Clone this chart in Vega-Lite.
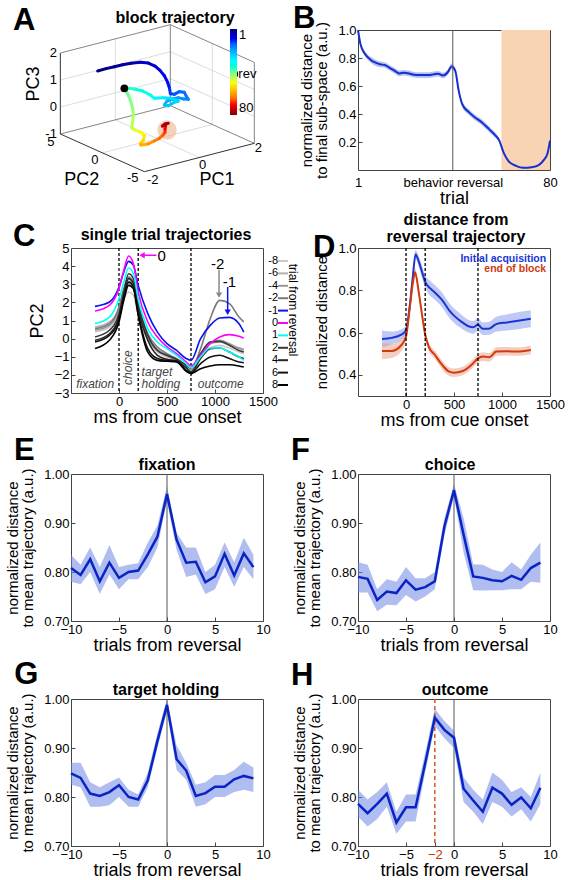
{
"$schema":"https://vega.github.io/schema/vega-lite/v6.json",
"padding":{"left":5,"top":2,"right":5,"bottom":0},
"config":{"font":"Liberation Sans","view":{"stroke":"#444","strokeWidth":1},
"axis":{"grid":false,"domain":false,"labelFontSize":13,"titleFontSize":15,"titleFontWeight":"normal","labelColor":"#000","titleColor":"#000","tickColor":"#444","tickSize":-4,"labelPadding":6,"labelFlush":false,"labelOverlap":false,"titlePadding":4},
"axisX":{"titleFontSize":18,"titlePadding":0},
"axisY":{"titleLineHeight":15,"titlePadding":8}},
"resolve":{"scale":{"color":"independent"}},
"columns":2,
"spacing":{"row":78,"column":95},
"bounds":"flush",
"datasets":{
"one":[{}],
"traj":[{"t":1,"u":-2.21,"v":1.506},{"t":2,"u":-1.901,"v":1.593},{"t":3,"u":-1.593,"v":1.667},{"t":4,"u":-1.284,"v":1.741},{"t":5,"u":-0.975,"v":1.79},{"t":6,"u":-0.63,"v":1.827},{"t":7,"u":-0.333,"v":1.802},{"t":8,"u":-0.086,"v":1.691},{"t":9,"u":0.099,"v":1.531},{"t":10,"u":0.259,"v":1.333},{"t":11,"u":0.383,"v":1.086},{"t":12,"u":0.457,"v":0.84},{"t":13,"u":0.481,"v":0.667},{"t":14,"u":0.63,"v":0.642},{"t":15,"u":0.815,"v":0.741},{"t":16,"u":1.0,"v":0.716},{"t":17,"u":1.074,"v":0.568},{"t":18,"u":1.148,"v":0.457},{"t":19,"u":0.975,"v":0.469},{"t":20,"u":0.778,"v":0.519},{"t":21,"u":0.568,"v":0.469},{"t":22,"u":0.358,"v":0.395},{"t":23,"u":0.259,"v":0.247},{"t":24,"u":0.407,"v":0.222},{"t":25,"u":0.605,"v":0.333},{"t":26,"u":0.778,"v":0.395},{"t":27,"u":0.506,"v":0.494},{"t":29,"u":0.198,"v":0.519},{"t":31,"u":-0.111,"v":0.494},{"t":33,"u":-0.259,"v":0.617},{"t":35,"u":-0.543,"v":0.765},{"t":37,"u":-0.852,"v":0.84},{"t":39,"u":-1.074,"v":0.864},{"t":40,"u":-1.222,"v":0.864},{"t":41,"u":-1.123,"v":0.716},{"t":42,"u":-1.049,"v":0.556},{"t":43,"u":-0.975,"v":0.346},{"t":44,"u":-0.914,"v":0.123},{"t":45,"u":-0.889,"v":-0.123},{"t":46,"u":-0.914,"v":-0.37},{"t":47,"u":-0.951,"v":-0.593},{"t":49,"u":-0.827,"v":-0.679},{"t":51,"u":-0.605,"v":-0.765},{"t":53,"u":-0.481,"v":-0.889},{"t":55,"u":-0.519,"v":-1.062},{"t":57,"u":-0.63,"v":-1.185},{"t":59,"u":-0.605,"v":-1.235},{"t":61,"u":-0.358,"v":-1.198},{"t":63,"u":-0.111,"v":-1.086},{"t":65,"u":0.074,"v":-0.988},{"t":67,"u":0.21,"v":-0.864},{"t":69,"u":0.284,"v":-0.765},{"t":71,"u":0.284,"v":-0.642},{"t":73,"u":0.309,"v":-0.519},{"t":75,"u":0.185,"v":-0.531},{"t":77,"u":0.284,"v":-0.457},{"t":80,"u":0.407,"v":-0.432}],
"frame":[{"k":"axis","u":-3.593,"v":-0.827,"u2":-3.593,"v2":2.173},{"k":"axis","u":-3.593,"v":-0.827,"u2":-0.481,"v2":-2.222},{"k":"axis","u":-0.481,"v":-2.222,"u2":3.593,"v2":-1.173},{"k":"box","u":-3.593,"v":2.173,"u2":0.481,"v2":3.222},{"k":"box","u":0.481,"v":0.222,"u2":0.481,"v2":3.222},{"k":"box","u":0.481,"v":3.222,"u2":3.593,"v2":1.827},{"k":"box","u":3.593,"v":-1.173,"u2":3.593,"v2":1.827},{"k":"box","u":-3.593,"v":-0.827,"u2":0.481,"v2":0.222},{"k":"box","u":0.481,"v":0.222,"u2":3.593,"v2":-1.173},{"k":"grid","u":-1.556,"v":-0.302,"u2":-1.556,"v2":2.698},{"k":"grid","u":-3.593,"v":0.173,"u2":0.481,"v2":1.222},{"k":"grid","u":-3.593,"v":1.173,"u2":0.481,"v2":2.222},{"k":"grid","u":2.037,"v":-0.475,"u2":2.037,"v2":2.525},{"k":"grid","u":0.481,"v":1.222,"u2":3.593,"v2":-0.173},{"k":"grid","u":0.481,"v":2.222,"u2":3.593,"v2":0.827},{"k":"grid","u":-1.556,"v":-0.302,"u2":1.556,"v2":-1.698},{"k":"grid","u":-2.037,"v":-1.525,"u2":2.037,"v2":-0.475}],
"B":[{"trial":1,"m":1.0,"lo":0.99,"hi":1.0},{"trial":2,"m":0.9,"lo":0.885,"hi":0.915},{"trial":4,"m":0.826,"lo":0.81,"hi":0.845},{"trial":6,"m":0.79,"lo":0.77,"hi":0.81},{"trial":8,"m":0.768,"lo":0.745,"hi":0.79},{"trial":10,"m":0.755,"lo":0.735,"hi":0.775},{"trial":12,"m":0.75,"lo":0.73,"hi":0.77},{"trial":14,"m":0.73,"lo":0.71,"hi":0.75},{"trial":16,"m":0.71,"lo":0.69,"hi":0.73},{"trial":18,"m":0.69,"lo":0.67,"hi":0.71},{"trial":20,"m":0.695,"lo":0.675,"hi":0.715},{"trial":22,"m":0.69,"lo":0.67,"hi":0.71},{"trial":24,"m":0.68,"lo":0.66,"hi":0.7},{"trial":26,"m":0.678,"lo":0.658,"hi":0.698},{"trial":28,"m":0.678,"lo":0.658,"hi":0.698},{"trial":30,"m":0.678,"lo":0.658,"hi":0.698},{"trial":32,"m":0.683,"lo":0.663,"hi":0.703},{"trial":34,"m":0.688,"lo":0.668,"hi":0.708},{"trial":36,"m":0.675,"lo":0.655,"hi":0.695},{"trial":38,"m":0.7,"lo":0.68,"hi":0.72},{"trial":39.5,"m":0.74,"lo":0.72,"hi":0.76},{"trial":41,"m":0.71,"lo":0.69,"hi":0.73},{"trial":42.5,"m":0.56,"lo":0.54,"hi":0.58},{"trial":44,"m":0.466,"lo":0.446,"hi":0.486},{"trial":46.5,"m":0.415,"lo":0.395,"hi":0.435},{"trial":49,"m":0.377,"lo":0.357,"hi":0.397},{"trial":52,"m":0.34,"lo":0.32,"hi":0.36},{"trial":55,"m":0.29,"lo":0.27,"hi":0.31},{"trial":57.5,"m":0.248,"lo":0.23,"hi":0.266},{"trial":59,"m":0.215,"lo":0.2,"hi":0.23},{"trial":61,"m":0.12,"lo":0.11,"hi":0.13},{"trial":63,"m":0.062,"lo":0.055,"hi":0.07},{"trial":66,"m":0.03,"lo":0.025,"hi":0.035},{"trial":69,"m":0.016,"lo":0.012,"hi":0.02},{"trial":72.5,"m":0.02,"lo":0.015,"hi":0.025},{"trial":75.5,"m":0.037,"lo":0.03,"hi":0.044},{"trial":77.5,"m":0.072,"lo":0.065,"hi":0.08},{"trial":79,"m":0.12,"lo":0.11,"hi":0.13},{"trial":80,"m":0.21,"lo":0.2,"hi":0.22}],
"C":[{"t":-250,"-8":0.37,"-6":0.64,"-4":0.46,"-2":0.55,"-1":1.78,"0":1.52,"1":0.83,"2":0.09,"4":-0.09,"6":-0.19,"8":-0.55},{"t":-100,"-8":0.64,"-6":0.92,"-4":0.73,"-2":0.83,"-1":2.02,"0":1.84,"1":1.19,"2":0.46,"4":0.27,"6":0.18,"8":-0.09},{"t":0,"-8":1.38,"-6":1.65,"-4":1.56,"-2":1.75,"-1":2.85,"0":2.76,"1":2.2,"2":1.38,"4":1.19,"6":1.1,"8":0.92},{"t":50,"-8":2.2,"-6":2.57,"-4":2.48,"-2":2.76,"-1":3.68,"0":3.77,"1":3.12,"2":2.57,"4":2.39,"6":2.3,"8":2.11},{"t":100,"-8":2.57,"-6":3.16,"-4":3.03,"-2":3.4,"-1":4.26,"0":4.56,"1":3.9,"2":3.58,"4":3.31,"6":3.12,"8":2.94},{"t":150,"-8":2.39,"-6":2.94,"-4":2.76,"-2":3.12,"-1":4.04,"0":4.14,"1":3.58,"2":3.31,"4":3.03,"6":2.85,"8":2.76},{"t":200,"-8":1.29,"-6":1.65,"-4":1.56,"-2":1.93,"-1":2.94,"0":2.57,"1":2.2,"2":1.93,"4":1.65,"6":1.38,"8":1.29},{"t":300,"-8":-0.09,"-6":0.09,"-4":0.0,"-2":0.27,"-1":1.38,"0":0.92,"1":0.55,"2":0.18,"4":-0.09,"6":-0.55,"8":-0.74},{"t":400,"-8":-0.74,"-6":-0.59,"-4":-0.65,"-2":-0.46,"-1":0.36,"0":0.09,"1":-0.19,"2":-0.65,"4":-0.92,"6":-1.1,"8":-1.2},{"t":500,"-8":-1.01,"-6":-0.88,"-4":-0.96,"-2":-0.83,"-1":-0.28,"0":-0.46,"1":-0.55,"2":-0.92,"4":-1.14,"6":-1.2,"8":-1.25},{"t":600,"-8":-1.2,"-6":-1.14,"-4":-1.2,"-2":-1.1,"-1":-0.65,"0":-0.83,"1":-0.92,"2":-1.14,"4":-1.25,"6":-1.23,"8":-1.29},{"t":700,"-8":-1.51,"-6":-1.51,"-4":-1.57,"-2":-1.47,"-1":-1.1,"0":-1.29,"1":-1.38,"2":-1.47,"4":-1.62,"6":-1.75,"8":-1.8},{"t":750,"-8":-1.62,"-6":-1.69,"-4":-1.75,"-2":-1.66,"-1":-1.2,"0":-1.51,"1":-1.62,"2":-1.62,"4":-1.84,"6":-1.9,"8":-1.93},{"t":850,"-8":-1.01,"-6":-0.92,"-4":-0.83,"-2":-0.55,"-1":0.0,"0":-0.92,"1":-1.01,"2":-0.83,"4":-1.1,"6":-1.38,"8":-1.66},{"t":950,"-8":-0.52,"-6":-0.28,"-4":-0.19,"-2":1.1,"-1":0.73,"0":-0.28,"1":-0.52,"2":-0.19,"4":-0.55,"6":-1.01,"8":-1.51},{"t":1050,"-8":-0.37,"-6":-0.19,"-4":-0.09,"-2":2.11,"-1":1.14,"0":0.09,"1":-0.52,"2":-0.15,"4":-0.52,"6":-0.92,"8":-1.44},{"t":1150,"-8":-0.52,"-6":-0.37,"-4":-0.28,"-2":1.93,"-1":1.17,"0":0.22,"1":-0.74,"2":-0.37,"4":-0.74,"6":-1.1,"8":-1.44},{"t":1250,"-8":-0.74,"-6":-0.55,"-4":-0.52,"-2":1.19,"-1":0.82,"0":0.13,"1":-1.01,"2":-0.65,"4":-1.01,"6":-1.29,"8":-1.51},{"t":1300,"-8":-0.83,"-6":-0.65,"-4":-0.59,"-2":0.92,"-1":0.36,"0":0.03,"1":-1.2,"2":-0.74,"4":-1.1,"6":-1.33,"8":-1.57}],
"D":[{"g":"acq","t":-250,"m":0.57,"lo":0.53,"hi":0.61},{"g":"acq","t":-150,"m":0.575,"lo":0.545,"hi":0.605},{"g":"acq","t":-50,"m":0.59,"lo":0.565,"hi":0.615},{"g":"acq","t":0,"m":0.61,"lo":0.59,"hi":0.63},{"g":"acq","t":40,"m":0.73,"lo":0.71,"hi":0.75},{"g":"acq","t":70,"m":0.86,"lo":0.84,"hi":0.88},{"g":"acq","t":100,"m":0.97,"lo":0.95,"hi":0.99},{"g":"acq","t":130,"m":0.94,"lo":0.915,"hi":0.965},{"g":"acq","t":165,"m":0.89,"lo":0.86,"hi":0.92},{"g":"acq","t":200,"m":0.84,"lo":0.81,"hi":0.87},{"g":"acq","t":250,"m":0.81,"lo":0.775,"hi":0.845},{"g":"acq","t":300,"m":0.79,"lo":0.755,"hi":0.825},{"g":"acq","t":375,"m":0.755,"lo":0.72,"hi":0.79},{"g":"acq","t":450,"m":0.705,"lo":0.67,"hi":0.74},{"g":"acq","t":500,"m":0.68,"lo":0.645,"hi":0.715},{"g":"acq","t":575,"m":0.652,"lo":0.62,"hi":0.685},{"g":"acq","t":650,"m":0.63,"lo":0.6,"hi":0.66},{"g":"acq","t":700,"m":0.625,"lo":0.595,"hi":0.655},{"g":"acq","t":750,"m":0.637,"lo":0.607,"hi":0.667},{"g":"acq","t":800,"m":0.618,"lo":0.588,"hi":0.648},{"g":"acq","t":860,"m":0.618,"lo":0.588,"hi":0.65},{"g":"acq","t":940,"m":0.64,"lo":0.605,"hi":0.675},{"g":"acq","t":1050,"m":0.648,"lo":0.61,"hi":0.686},{"g":"acq","t":1150,"m":0.655,"lo":0.615,"hi":0.695},{"g":"acq","t":1300,"m":0.665,"lo":0.625,"hi":0.705},
{"g":"end","t":-250,"m":0.513,"lo":0.475,"hi":0.55},{"g":"end","t":-150,"m":0.513,"lo":0.48,"hi":0.546},{"g":"end","t":-50,"m":0.54,"lo":0.51,"hi":0.57},{"g":"end","t":0,"m":0.58,"lo":0.56,"hi":0.6},{"g":"end","t":40,"m":0.72,"lo":0.7,"hi":0.74},{"g":"end","t":70,"m":0.83,"lo":0.81,"hi":0.85},{"g":"end","t":95,"m":0.885,"lo":0.865,"hi":0.905},{"g":"end","t":130,"m":0.8,"lo":0.78,"hi":0.82},{"g":"end","t":165,"m":0.69,"lo":0.67,"hi":0.71},{"g":"end","t":200,"m":0.59,"lo":0.57,"hi":0.61},{"g":"end","t":240,"m":0.53,"lo":0.51,"hi":0.55},{"g":"end","t":300,"m":0.495,"lo":0.475,"hi":0.515},{"g":"end","t":375,"m":0.448,"lo":0.428,"hi":0.468},{"g":"end","t":450,"m":0.415,"lo":0.395,"hi":0.435},{"g":"end","t":500,"m":0.41,"lo":0.39,"hi":0.43},{"g":"end","t":590,"m":0.418,"lo":0.398,"hi":0.438},{"g":"end","t":690,"m":0.45,"lo":0.43,"hi":0.47},{"g":"end","t":750,"m":0.478,"lo":0.458,"hi":0.498},{"g":"end","t":800,"m":0.487,"lo":0.467,"hi":0.507},{"g":"end","t":870,"m":0.483,"lo":0.463,"hi":0.503},{"g":"end","t":940,"m":0.51,"lo":0.49,"hi":0.53},{"g":"end","t":1050,"m":0.512,"lo":0.492,"hi":0.532},{"g":"end","t":1150,"m":0.51,"lo":0.49,"hi":0.53},{"g":"end","t":1300,"m":0.518,"lo":0.498,"hi":0.538}],
"E":[{"trial":-10,"m":0.808,"lo":0.78,"hi":0.835},{"trial":-9,"m":0.794,"lo":0.775,"hi":0.815},{"trial":-8,"m":0.826,"lo":0.8,"hi":0.85},{"trial":-7,"m":0.781,"lo":0.755,"hi":0.81},{"trial":-6,"m":0.819,"lo":0.795,"hi":0.855},{"trial":-5,"m":0.788,"lo":0.765,"hi":0.81},{"trial":-4,"m":0.8,"lo":0.785,"hi":0.815},{"trial":-3,"m":0.803,"lo":0.785,"hi":0.818},{"trial":-2,"m":0.836,"lo":0.81,"hi":0.86},{"trial":-1,"m":0.872,"lo":0.85,"hi":0.895},{"trial":0,"m":0.959,"lo":0.945,"hi":0.975},{"trial":1,"m":0.866,"lo":0.845,"hi":0.88},{"trial":2,"m":0.819,"lo":0.79,"hi":0.85},{"trial":3,"m":0.821,"lo":0.795,"hi":0.85},{"trial":4,"m":0.779,"lo":0.755,"hi":0.8},{"trial":5,"m":0.791,"lo":0.765,"hi":0.815},{"trial":6,"m":0.837,"lo":0.81,"hi":0.86},{"trial":7,"m":0.793,"lo":0.77,"hi":0.82},{"trial":8,"m":0.838,"lo":0.81,"hi":0.87},{"trial":9,"m":0.81,"lo":0.785,"hi":0.835}],
"F":[{"trial":-10,"m":0.79,"lo":0.758,"hi":0.82},{"trial":-9,"m":0.786,"lo":0.758,"hi":0.815},{"trial":-8,"m":0.743,"lo":0.72,"hi":0.765},{"trial":-7,"m":0.76,"lo":0.733,"hi":0.785},{"trial":-6,"m":0.757,"lo":0.732,"hi":0.78},{"trial":-5,"m":0.783,"lo":0.753,"hi":0.81},{"trial":-4,"m":0.764,"lo":0.74,"hi":0.787},{"trial":-3,"m":0.769,"lo":0.75,"hi":0.787},{"trial":-2,"m":0.781,"lo":0.765,"hi":0.8},{"trial":-1,"m":0.893,"lo":0.875,"hi":0.91},{"trial":0,"m":0.967,"lo":0.955,"hi":0.98},{"trial":1,"m":0.876,"lo":0.84,"hi":0.91},{"trial":2,"m":0.791,"lo":0.763,"hi":0.816},{"trial":3,"m":0.788,"lo":0.762,"hi":0.815},{"trial":4,"m":0.783,"lo":0.763,"hi":0.805},{"trial":5,"m":0.781,"lo":0.763,"hi":0.8},{"trial":6,"m":0.792,"lo":0.765,"hi":0.82},{"trial":7,"m":0.784,"lo":0.765,"hi":0.805},{"trial":8,"m":0.808,"lo":0.78,"hi":0.835},{"trial":9,"m":0.819,"lo":0.778,"hi":0.86}],
"G":[{"trial":-10,"m":0.848,"lo":0.825,"hi":0.87},{"trial":-9,"m":0.839,"lo":0.82,"hi":0.87},{"trial":-8,"m":0.807,"lo":0.78,"hi":0.83},{"trial":-7,"m":0.802,"lo":0.78,"hi":0.82},{"trial":-6,"m":0.81,"lo":0.783,"hi":0.83},{"trial":-5,"m":0.824,"lo":0.8,"hi":0.84},{"trial":-4,"m":0.8,"lo":0.78,"hi":0.815},{"trial":-3,"m":0.795,"lo":0.78,"hi":0.805},{"trial":-2,"m":0.834,"lo":0.82,"hi":0.85},{"trial":-1,"m":0.914,"lo":0.9,"hi":0.93},{"trial":0,"m":0.988,"lo":0.975,"hi":1.0},{"trial":1,"m":0.877,"lo":0.855,"hi":0.905},{"trial":2,"m":0.854,"lo":0.835,"hi":0.87},{"trial":3,"m":0.802,"lo":0.78,"hi":0.825},{"trial":4,"m":0.808,"lo":0.785,"hi":0.83},{"trial":5,"m":0.821,"lo":0.8,"hi":0.845},{"trial":6,"m":0.821,"lo":0.8,"hi":0.845},{"trial":7,"m":0.836,"lo":0.81,"hi":0.855},{"trial":8,"m":0.843,"lo":0.815,"hi":0.872},{"trial":9,"m":0.838,"lo":0.81,"hi":0.86}],
"H":[{"trial":-10,"m":0.786,"lo":0.76,"hi":0.815},{"trial":-9,"m":0.767,"lo":0.74,"hi":0.795},{"trial":-8,"m":0.786,"lo":0.755,"hi":0.81},{"trial":-7,"m":0.807,"lo":0.78,"hi":0.83},{"trial":-6,"m":0.748,"lo":0.725,"hi":0.77},{"trial":-5,"m":0.779,"lo":0.75,"hi":0.805},{"trial":-4,"m":0.779,"lo":0.75,"hi":0.805},{"trial":-3,"m":0.869,"lo":0.85,"hi":0.89},{"trial":-2,"m":0.962,"lo":0.945,"hi":0.98},{"trial":-1,"m":0.937,"lo":0.92,"hi":0.955},{"trial":0,"m":0.921,"lo":0.9,"hi":0.935},{"trial":1,"m":0.817,"lo":0.79,"hi":0.84},{"trial":2,"m":0.793,"lo":0.77,"hi":0.815},{"trial":3,"m":0.77,"lo":0.745,"hi":0.795},{"trial":4,"m":0.819,"lo":0.79,"hi":0.85},{"trial":5,"m":0.807,"lo":0.78,"hi":0.835},{"trial":6,"m":0.784,"lo":0.76,"hi":0.81},{"trial":7,"m":0.799,"lo":0.775,"hi":0.82},{"trial":8,"m":0.777,"lo":0.75,"hi":0.8},{"trial":9,"m":0.819,"lo":0.785,"hi":0.85}]
},
"concat":[
{"width":192,"height":140,"view":{"stroke":null},
"encoding":{"x":{"field":"u","type":"quantitative","scale":{"domain":[-3.198,3.914],"nice":false,"zero":false},"axis":null},"y":{"field":"v","type":"quantitative","scale":{"domain":[-2.16,3.025],"nice":false,"zero":false},"axis":null}},
"layer":[
{"data":{"name":"frame"},"transform":[{"filter":"datum.k == 'grid'"}],"mark":{"type":"rule","color":"#d4d4d4","strokeWidth":0.8},"encoding":{"x2":{"field":"u2"},"y2":{"field":"v2"}}},
{"data":{"name":"frame"},"transform":[{"filter":"datum.k == 'box'"}],"mark":{"type":"rule","color":"#666","strokeWidth":0.8},"encoding":{"x2":{"field":"u2"},"y2":{"field":"v2"}}},
{"data":{"name":"frame"},"transform":[{"filter":"datum.k == 'axis'"}],"mark":{"type":"rule","color":"#333","strokeWidth":1},"encoding":{"x2":{"field":"u2"},"y2":{"field":"v2"}}},
{"data":{"values":[{"u":0.358,"v":-0.679}]},"mark":{"type":"point","filled":true,"color":"#eeb48e","opacity":0.6,"size":380}},
{"data":{"name":"traj"},"transform":[{"window":[{"op":"lead","field":"u","as":"u2"},{"op":"lead","field":"v","as":"v2"}],"sort":[{"field":"t"}]},{"filter":"datum.u2 != null"}],"mark":{"type":"rule","strokeWidth":3,"strokeCap":"round"},"encoding":{"x2":{"field":"u2"},"y2":{"field":"v2"},"color":{"field":"t","type":"quantitative","scale":{"domain":[80,70.1,50.4,30.6,10.9,1],"range":["#7f0000","#ff0000","#ffff00","#00ffff","#0000ff","#00007f"]},"legend":{"orient":"none","legendX":159,"legendY":-1,"direction":"vertical","title":null,"padding":0,"gradientLength":86,"gradientThickness":7,"values":[1,80],"labelFontSize":13,"gradientStrokeWidth":0,"labelOffset":2}}}},
{"data":{"values":[{"u":-1.222,"v":0.864},{"u":2.852,"v":1.395}]},"mark":{"type":"point","filled":true,"color":"#000","opacity":1,"size":60}},
{"data":{"values":[{"u":3.0,"v":1.395,"s":"rev"}]},"mark":{"type":"text","align":"left","baseline":"middle","fontSize":13},"encoding":{"text":{"field":"s"}}},
{"data":{"values":[{"u":-3.72,"v":2.173,"s":"2"},{"u":-3.72,"v":1.173,"s":"1"},{"u":-3.72,"v":0.173,"s":"0"},{"u":-3.72,"v":-0.827,"s":"-1"}]},"mark":{"type":"text","align":"right","baseline":"middle","fontSize":13},"encoding":{"text":{"field":"s"}}},
{"data":{"values":[{"u":-3.94,"v":-1.11,"s":"5"},{"u":-2.31,"v":-1.79,"s":"0"},{"u":-0.91,"v":-2.47,"s":"-5"},{"u":-0.17,"v":-2.53,"s":"-2"},{"u":1.68,"v":-1.98,"s":"0"},{"u":3.74,"v":-1.36,"s":"2"}]},"mark":{"type":"text","align":"center","baseline":"middle","fontSize":13},"encoding":{"text":{"field":"s"}}},
{"data":{"values":[{"u":-2.8,"v":-2.53,"s":"PC2"},{"u":2.21,"v":-2.53,"s":"PC1"}]},"mark":{"type":"text","align":"center","baseline":"middle","fontSize":18},"encoding":{"text":{"field":"s"}}},
{"data":{"values":[{"u":-4.556,"v":1.025,"s":"PC3"}]},"mark":{"type":"text","align":"center","baseline":"middle","fontSize":18,"angle":270},"encoding":{"text":{"field":"s"}}},
{"data":{"values":[{"u":0.654,"v":3.295,"s":"block trajectory"}]},"mark":{"type":"text","align":"center","baseline":"alphabetic","fontSize":16,"fontWeight":"bold"},"encoding":{"text":{"field":"s"}}},
{"data":{"values":[{"u":-5.346,"v":3.025,"s":"A"}]},"mark":{"type":"text","align":"left","baseline":"alphabetic","fontSize":31,"fontWeight":"bold"},"encoding":{"text":{"field":"s"}}}
]},
{"width":192,"height":140,"data":{"name":"B"},
"layer":[
{"data":{"name":"one"},"mark":{"type":"rect","color":"#f8d4b4"},"encoding":{"x":{"datum":60,"type":"quantitative","scale":{"domain":[1,80],"nice":false,"zero":false},"axis":{"values":[1,40,80],"tickCount":20,"labelExpr":"datum.value == 40 ? 'behavior reversal' : datum.label","title":"trial","tickSize":0,"labelOverlap":false}},"x2":{"datum":80}}},
{"mark":{"type":"area","color":"#6f86e6","opacity":0.5,"interpolate":"monotone"},"encoding":{"x":{"field":"trial","type":"quantitative"},"y":{"field":"lo","type":"quantitative","scale":{"domain":[0,1],"nice":false},"axis":{"values":[0.2,0.4,0.6,0.8,1.0],"tickCount":20,"format":".1f","labelOverlap":false,"title":["normalized distance","to final sub-space (a.u.)"]}},"y2":{"field":"hi"}}},
{"mark":{"type":"line","color":"#1530d0","strokeWidth":2,"interpolate":"monotone"},"encoding":{"x":{"field":"trial","type":"quantitative"},"y":{"field":"m","type":"quantitative"}}},
{"data":{"name":"one"},"mark":{"type":"rule","color":"#555","strokeWidth":1},"encoding":{"x":{"datum":40}}},
{"data":{"name":"one"},"mark":{"type":"text","align":"left","baseline":"alphabetic","fontSize":31,"fontWeight":"bold","text":"B"},"encoding":{"x":{"datum":-25.7},"y":{"datum":1.014}}}
]},
{"width":192,"height":145,
"layer":[
{"data":{"values":[{"t":0},{"t":200},{"t":750}]},"mark":{"type":"rule","color":"#000","strokeDash":[3,2],"strokeWidth":1.3},"encoding":{"x":{"field":"t","type":"quantitative","scale":{"domain":[-500,1500],"nice":false},"axis":{"values":[0,500,1000,1500],"tickCount":20,"format":"d","labelOverlap":false,"title":"ms from cue onset"}}}},
{"data":{"name":"C"},"transform":[{"fold":["-8","-6","-4","-2","-1","0","1","2","4","6","8"],"as":["trial","pc"]},{"filter":{"not":{"field":"trial","oneOf":["-1","0","1"]}}}],"mark":{"type":"line","strokeWidth":1.6,"interpolate":"monotone"},"encoding":{"x":{"field":"t","type":"quantitative"},"y":{"field":"pc","type":"quantitative","scale":{"domain":[-3,5],"nice":false},"axis":{"values":[-3,-2,-1,0,1,2,3,4,5],"tickCount":20,"format":"d","labelOverlap":false,"title":"PC2","titleFontSize":18}},"color":{"field":"trial","type":"nominal","scale":{"domain":["-8","-6","-4","-2","-1","0","1","2","4","6","8"],"range":["#c8c8c8","#b0b0b0","#989898","#7a7a7a","#0a14f0","#ff00ff","#00ffff","#383838","#262626","#141414","#000000"]},"legend":{"orient":"none","legendX":206,"legendY":7,"title":null,"padding":0,"labelFontSize":11,"symbolType":"M-1,0H1","symbolSize":100,"symbolStrokeWidth":2,"labelAlign":"right","labelOffset":-11,"rowPadding":1.4}}}},
{"data":{"name":"C"},"transform":[{"fold":["-8","-6","-4","-2","-1","0","1","2","4","6","8"],"as":["trial","pc"]},{"filter":{"field":"trial","oneOf":["-1","0","1"]}}],"mark":{"type":"line","strokeWidth":1.6,"interpolate":"monotone"},"encoding":{"x":{"field":"t","type":"quantitative"},"y":{"field":"pc","type":"quantitative"},"color":{"field":"trial","type":"nominal"}}},
{"data":{"name":"one"},"mark":{"type":"rule","color":"#ff00ff","strokeWidth":1.5},"encoding":{"x":{"datum":390},"x2":{"datum":245},"y":{"datum":4.6}}},
{"data":{"name":"one"},"mark":{"type":"point","shape":"triangle-left","filled":true,"color":"#ff00ff","opacity":1,"size":40},"encoding":{"x":{"datum":240},"y":{"datum":4.6}}},
{"data":{"name":"one"},"mark":{"type":"text","align":"left","baseline":"middle","fontSize":15,"text":"0"},"encoding":{"x":{"datum":400},"y":{"datum":4.55}}},
{"data":{"name":"one"},"mark":{"type":"rule","color":"#888","strokeWidth":1.5},"encoding":{"x":{"datum":1042},"y":{"datum":3.8},"y2":{"datum":2.5}}},
{"data":{"name":"one"},"mark":{"type":"point","shape":"triangle-down","filled":true,"color":"#888","opacity":1,"size":40},"encoding":{"x":{"datum":1042},"y":{"datum":2.4}}},
{"data":{"name":"one"},"mark":{"type":"text","align":"center","baseline":"middle","fontSize":15,"text":"-2"},"encoding":{"x":{"datum":1027},"y":{"datum":4.12}}},
{"data":{"name":"one"},"mark":{"type":"rule","color":"#0a14f0","strokeWidth":1.5},"encoding":{"x":{"datum":1132},"y":{"datum":2.85},"y2":{"datum":1.55}}},
{"data":{"name":"one"},"mark":{"type":"point","shape":"triangle-down","filled":true,"color":"#0a14f0","opacity":1,"size":40},"encoding":{"x":{"datum":1132},"y":{"datum":1.45}}},
{"data":{"name":"one"},"mark":{"type":"text","align":"center","baseline":"middle","fontSize":15,"text":"-1"},"encoding":{"x":{"datum":1150},"y":{"datum":3.12}}},
{"data":{"name":"one"},"mark":{"type":"text","align":"center","baseline":"middle","fontSize":12,"fontStyle":"italic","color":"#444","text":"fixation"},"encoding":{"x":{"datum":-248},"y":{"datum":-2.49}}},
{"data":{"name":"one"},"mark":{"type":"text","align":"center","baseline":"middle","fontSize":12,"fontStyle":"italic","color":"#444","text":"outcome"},"encoding":{"x":{"datum":1060},"y":{"datum":-2.49}}},
{"data":{"name":"one"},"mark":{"type":"text","align":"left","baseline":"middle","fontSize":12,"fontStyle":"italic","color":"#444","text":"target"},"encoding":{"x":{"datum":235},"y":{"datum":-1.84}}},
{"data":{"name":"one"},"mark":{"type":"text","align":"left","baseline":"middle","fontSize":12,"fontStyle":"italic","color":"#444","text":"holding"},"encoding":{"x":{"datum":235},"y":{"datum":-2.52}}},
{"data":{"name":"one"},"mark":{"type":"text","align":"center","baseline":"middle","fontSize":12,"fontStyle":"italic","color":"#444","text":"choice","angle":270},"encoding":{"x":{"datum":97},"y":{"datum":-1.6}}},
{"data":{"name":"one"},"mark":{"type":"text","align":"center","baseline":"middle","fontSize":12,"text":"trial from reversal","angle":90},"encoding":{"x":{"datum":1812},"y":{"datum":1.58}}},
{"data":{"name":"one"},"mark":{"type":"text","align":"center","baseline":"alphabetic","fontSize":16,"fontWeight":"bold","text":"single trial trajectories"},"encoding":{"x":{"datum":490},"y":{"datum":5.44}}},
{"data":{"name":"one"},"mark":{"type":"text","align":"left","baseline":"alphabetic","fontSize":31,"fontWeight":"bold","text":"C"},"encoding":{"x":{"datum":-1104},"y":{"datum":5.11}}}
]},
{"width":192,"height":148,"data":{"name":"D"},
"layer":[
{"transform":[{"filter":"datum.g == 'acq'"}],"mark":{"type":"area","color":"#7088e8","opacity":0.45,"interpolate":"monotone"},"encoding":{"x":{"field":"t","type":"quantitative","scale":{"domain":[-500,1500],"nice":false},"axis":{"values":[0,500,1000,1500],"tickCount":20,"format":"d","labelOverlap":false,"title":"ms from cue onset"}},"y":{"field":"lo","type":"quantitative","scale":{"domain":[0.3,1.0],"nice":false,"zero":false},"axis":{"values":[0.4,0.6,0.8,1.0],"tickCount":20,"format":".1f","labelOverlap":false,"title":"normalized distance"}},"y2":{"field":"hi"}}},
{"transform":[{"filter":"datum.g == 'end'"}],"mark":{"type":"area","color":"#ec9a80","opacity":0.5,"interpolate":"monotone"},"encoding":{"x":{"field":"t","type":"quantitative"},"y":{"field":"lo","type":"quantitative"},"y2":{"field":"hi"}}},
{"transform":[{"filter":"datum.g == 'acq'"}],"mark":{"type":"line","color":"#1a35d4","strokeWidth":2,"interpolate":"monotone"},"encoding":{"x":{"field":"t","type":"quantitative"},"y":{"field":"m","type":"quantitative"}}},
{"transform":[{"filter":"datum.g == 'end'"}],"mark":{"type":"line","color":"#d13a0e","strokeWidth":2,"interpolate":"monotone"},"encoding":{"x":{"field":"t","type":"quantitative"},"y":{"field":"m","type":"quantitative"}}},
{"data":{"values":[{"t":0},{"t":200},{"t":750}]},"mark":{"type":"rule","color":"#000","strokeDash":[3,2],"strokeWidth":1.3},"encoding":{"x":{"field":"t","type":"quantitative"}}},
{"data":{"name":"one"},"mark":{"type":"text","align":"right","baseline":"middle","fontSize":10.5,"fontWeight":"bold","color":"#1a35d4","text":"Initial acquisition"},"encoding":{"x":{"datum":1460},"y":{"datum":0.949}}},
{"data":{"name":"one"},"mark":{"type":"text","align":"right","baseline":"middle","fontSize":10.5,"fontWeight":"bold","color":"#d13a0e","text":"end of block"},"encoding":{"x":{"datum":1460},"y":{"datum":0.902}}},
{"data":{"name":"one"},"mark":{"type":"text","align":"center","baseline":"alphabetic","fontSize":16,"fontWeight":"bold","text":"distance from"},"encoding":{"x":{"datum":520},"y":{"datum":1.109}}},
{"data":{"name":"one"},"mark":{"type":"text","align":"center","baseline":"alphabetic","fontSize":16,"fontWeight":"bold","text":"reversal trajectory"},"encoding":{"x":{"datum":520},"y":{"datum":1.028}}},
{"data":{"name":"one"},"mark":{"type":"text","align":"left","baseline":"alphabetic","fontSize":31,"fontWeight":"bold","text":"D"},"encoding":{"x":{"datum":-969},"y":{"datum":0.957}}}
]},
{"width":192,"height":147,"data":{"name":"E"},
"layer":[
{"mark":{"type":"area","color":"#6f86e6","opacity":0.55},"encoding":{"x":{"field":"trial","type":"quantitative","scale":{"domain":[-10,10],"nice":false},"axis":{"values":[-10,-5,0,5,10],"tickCount":20,"labelOverlap":false,"title":"trials from reversal"}},"y":{"field":"lo","type":"quantitative","scale":{"domain":[0.7,1.0],"nice":false,"zero":false},"axis":{"values":[0.7,0.8,0.9,1.0],"tickCount":20,"format":".2f","labelOverlap":false,"title":["normalized distance","to mean trajectory (a.u.)"]}},"y2":{"field":"hi"}}},
{"data":{"name":"one"},"mark":{"type":"rule","color":"#555","strokeWidth":1},"encoding":{"x":{"datum":0}}},
{"mark":{"type":"line","color":"#0a24c4","strokeWidth":2.5},"encoding":{"x":{"field":"trial","type":"quantitative"},"y":{"field":"m","type":"quantitative"}}},
{"data":{"name":"one"},"mark":{"type":"text","align":"center","baseline":"alphabetic","fontSize":16,"fontWeight":"bold","text":"fixation"},"encoding":{"x":{"datum":0},"y":{"datum":1.008}}},
{"data":{"name":"one"},"mark":{"type":"text","align":"left","baseline":"alphabetic","fontSize":31,"fontWeight":"bold","text":"E"},"encoding":{"x":{"datum":-15.94},"y":{"datum":1.0286}}}
]},
{"width":192,"height":147,"data":{"name":"F"},
"layer":[
{"mark":{"type":"area","color":"#6f86e6","opacity":0.55},"encoding":{"x":{"field":"trial","type":"quantitative","scale":{"domain":[-10,10],"nice":false},"axis":{"values":[-10,-5,0,5,10],"tickCount":20,"labelOverlap":false,"title":"trials from reversal"}},"y":{"field":"lo","type":"quantitative","scale":{"domain":[0.7,1.0],"nice":false,"zero":false},"axis":{"values":[0.7,0.8,0.9,1.0],"tickCount":20,"format":".2f","labelOverlap":false,"title":["normalized distance","to mean trajectory (a.u.)"]}},"y2":{"field":"hi"}}},
{"data":{"name":"one"},"mark":{"type":"rule","color":"#555","strokeWidth":1},"encoding":{"x":{"datum":0}}},
{"mark":{"type":"line","color":"#0a24c4","strokeWidth":2.5},"encoding":{"x":{"field":"trial","type":"quantitative"},"y":{"field":"m","type":"quantitative"}}},
{"data":{"name":"one"},"mark":{"type":"text","align":"center","baseline":"alphabetic","fontSize":16,"fontWeight":"bold","text":"choice"},"encoding":{"x":{"datum":-0.4},"y":{"datum":1.008}}},
{"data":{"name":"one"},"mark":{"type":"text","align":"left","baseline":"alphabetic","fontSize":31,"fontWeight":"bold","text":"F"},"encoding":{"x":{"datum":-16.98},"y":{"datum":1.0286}}}
]},
{"width":192,"height":147,"data":{"name":"G"},
"layer":[
{"mark":{"type":"area","color":"#6f86e6","opacity":0.55},"encoding":{"x":{"field":"trial","type":"quantitative","scale":{"domain":[-10,10],"nice":false},"axis":{"values":[-10,-5,0,5,10],"tickCount":20,"labelOverlap":false,"title":"trials from reversal"}},"y":{"field":"lo","type":"quantitative","scale":{"domain":[0.7,1.0],"nice":false,"zero":false},"axis":{"values":[0.7,0.8,0.9,1.0],"tickCount":20,"format":".2f","labelOverlap":false,"title":["normalized distance","to mean trajectory (a.u.)"]}},"y2":{"field":"hi"}}},
{"data":{"name":"one"},"mark":{"type":"rule","color":"#555","strokeWidth":1},"encoding":{"x":{"datum":0}}},
{"mark":{"type":"line","color":"#0a24c4","strokeWidth":2.5},"encoding":{"x":{"field":"trial","type":"quantitative"},"y":{"field":"m","type":"quantitative"}}},
{"data":{"name":"one"},"mark":{"type":"text","align":"center","baseline":"alphabetic","fontSize":16,"fontWeight":"bold","text":"target holding"},"encoding":{"x":{"datum":-0.1},"y":{"datum":1.008}}},
{"data":{"name":"one"},"mark":{"type":"text","align":"left","baseline":"alphabetic","fontSize":31,"fontWeight":"bold","text":"G"},"encoding":{"x":{"datum":-15.9},"y":{"datum":1.0306}}}
]},
{"width":192,"height":147,"data":{"name":"H"},
"layer":[
{"mark":{"type":"area","color":"#6f86e6","opacity":0.55},"encoding":{"x":{"field":"trial","type":"quantitative","scale":{"domain":[-10,10],"nice":false},"axis":{"values":[-10,-5,-2,0,5,10],"tickCount":20,"labelOverlap":false,"title":"trials from reversal","labelColor":{"condition":{"test":"datum.value === -2","value":"#cc3300"},"value":"#000"}}},"y":{"field":"lo","type":"quantitative","scale":{"domain":[0.7,1.0],"nice":false,"zero":false},"axis":{"values":[0.7,0.8,0.9,1.0],"tickCount":20,"format":".2f","labelOverlap":false,"title":["normalized distance","to mean trajectory (a.u.)"]}},"y2":{"field":"hi"}}},
{"data":{"name":"one"},"mark":{"type":"rule","color":"#555","strokeWidth":1},"encoding":{"x":{"datum":0}}},
{"data":{"name":"one"},"mark":{"type":"rule","color":"#d9541e","strokeWidth":1.5,"strokeDash":[4,3]},"encoding":{"x":{"datum":-2}}},
{"mark":{"type":"line","color":"#0a24c4","strokeWidth":2.5},"encoding":{"x":{"field":"trial","type":"quantitative"},"y":{"field":"m","type":"quantitative"}}},
{"data":{"name":"one"},"mark":{"type":"text","align":"center","baseline":"alphabetic","fontSize":16,"fontWeight":"bold","text":"outcome"},"encoding":{"x":{"datum":0.1},"y":{"datum":1.008}}},
{"data":{"name":"one"},"mark":{"type":"text","align":"left","baseline":"alphabetic","fontSize":31,"fontWeight":"bold","text":"H"},"encoding":{"x":{"datum":-16.98},"y":{"datum":1.0286}}}
]}
]
}
